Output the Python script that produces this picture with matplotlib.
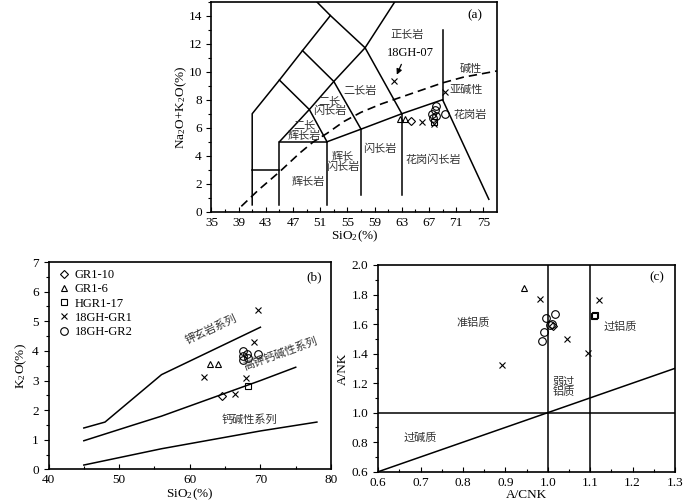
import matplotlib
matplotlib.use("Agg")
import matplotlib.pyplot as plt
import numpy as np
from matplotlib.ticker import MultipleLocator, FixedLocator

plt.rcParams['font.family'] = ['Liberation Serif', 'Noto Sans CJK SC']
plt.rcParams['mathtext.fontset'] = 'stix'
CJK = ['Noto Sans CJK SC', 'DejaVu Sans']
TXT = '#333333'

# ---------------- data ----------------
series_names = ['GR1-10', 'GR1-6', 'HGR1-17', '18GH-GR1', '18GH-GR2']
series_markers = ['D', '^', 's', 'x', 'o']

# panel (a): SiO2 vs Na2O+K2O
a_sio2_gr110 = [64.4]
a_alk_gr110 = [6.5]
a_sio2_gr16 = [62.8, 63.5]
a_alk_gr16 = [6.65, 6.65]
a_sio2_hgr = [67.7]
a_alk_hgr = [6.4]
a_sio2_gh1 = [61.9, 66.0, 67.8, 69.4]
a_alk_gh1 = [9.3, 6.42, 6.25, 8.55]
a_sio2_gh2 = [67.5, 67.9, 68.1, 67.6, 68.0, 69.3]
a_alk_gh2 = [7.0, 7.25, 7.55, 6.7, 6.85, 6.95]

# panel (b): SiO2 vs K2O
b_sio2_gr110 = [64.5]
b_k2o_gr110 = [2.49]
b_sio2_gr16 = [62.85, 64.0]
b_k2o_gr16 = [3.55, 3.55]
b_sio2_hgr = [68.2]
b_k2o_hgr = [2.83]
b_sio2_gh1 = [62.0, 66.4, 67.95, 69.1, 69.7]
b_k2o_gh1 = [3.12, 2.54, 3.07, 4.3, 5.39]
b_sio2_gh2 = [67.5, 68.1, 67.5, 68.2, 67.6, 69.6]
b_k2o_gh2 = [4.0, 3.91, 3.83, 3.75, 3.71, 3.91]

# panel (c): A/CNK vs A/NK
c_acnk_gr110 = [1.012]
c_anl_gr110 = [1.59]
c_acnk_gr16 = [0.944]
c_anl_gr16 = [1.843]
c_acnk_hgr = [1.108, 1.112]
c_anl_hgr = [1.656, 1.662]
c_acnk_gh1 = [0.893, 0.981, 1.045, 1.094, 1.12]
c_anl_gh1 = [1.32, 1.769, 1.50, 1.407, 1.764]
c_acnk_gh2 = [0.996, 1.016, 1.006, 0.992, 0.986, 1.010]
c_anl_gh2 = [1.64, 1.667, 1.595, 1.545, 1.486, 1.60]

# TAS (plutonic) boundaries, panel (a)
tas_lines = [
    [(41, 0.5), (41, 7), (45, 9.4), (48.4, 11.5), (52.5, 14), (48.4, 16)],
    [(41, 3), (45, 3)],
    [(45, 0.5), (45, 5), (52, 5), (52, 0.5)],
    [(45, 5), (49.4, 7.3), (52, 5)],
    [(45, 9.4), (49.4, 7.3), (53, 9.3), (57.6, 11.7), (62, 15)],
    [(48.4, 11.5), (53, 9.3), (57, 5.9)],
    [(52.5, 14), (57.6, 11.7), (63, 7)],
    [(52, 5), (57, 5.9), (63, 7), (69, 8), (75.8, 0.9)],
    [(57, 5.9), (57, 1.2)],
    [(63, 7), (63, 1.2)],
    [(69, 8), (69, 13)],
]
alk_div_x = [39.4, 42, 45, 48, 50, 52, 54.5, 57, 60, 63, 66, 69, 72, 77]
alk_div_y = [0.4, 1.6, 2.85, 4.2, 5.0, 5.6, 6.45, 7.1, 7.7, 8.2, 8.7, 9.2, 9.6, 10.05]
a_xticks = [35, 39, 43, 47, 51, 55, 59, 63, 67, 71, 75]

a_labels = [
    ('正长岩', 63.8, 12.6), ('碱性', 73.1, 10.2), ('亚碱性', 72.4, 8.67),
    ('花岗岩', 73.1, 6.9), ('二长岩', 56.8, 8.6), ('二长\n闪长岩', 52.4, 7.55),
    ('二长\n辉长岩', 48.7, 5.8), ('辉长岩', 49.2, 2.15), ('辉长\n闪长岩', 54.3, 3.55),
    ('闪长岩', 59.7, 4.5), ('花岗闪长岩', 67.7, 3.74),
]

# K2O-SiO2 series boundaries, panel (b)
sho_x = [45, 48, 56, 63, 70]
sho_y = [1.4, 1.6, 3.2, 4.0, 4.8]
hk_x = [45, 52, 56, 63, 70, 75]
hk_y = [0.97, 1.5, 1.8, 2.4, 3.0, 3.45]
ca_x = [45, 48, 56, 63, 70, 78]
ca_y = [0.15, 0.3, 0.7, 1.0, 1.3, 1.6]

# ---------------- figure ----------------
fig = plt.figure(figsize=(7.0, 5.01), dpi=100)
ax_a = fig.add_axes([0.302, 0.577, 0.408, 0.420])
ax_b = fig.add_axes([0.0693, 0.0629, 0.4036, 0.4141])
ax_c = fig.add_axes([0.5404, 0.0585, 0.4239, 0.4126])

mkw = dict(linestyle='none', markerfacecolor='none', markeredgecolor='black',
           color='black', markeredgewidth=0.8)
msizes = {'D': 4.2, '^': 5, 's': 4.5, 'x': 5, 'o': 5.5}


def plot_points(ax, groups):
    handles = []
    for (xs, ys), name, m in zip(groups, series_names, series_markers):
        h, = ax.plot(xs, ys, marker=m, markersize=msizes[m], label=name, **mkw)
        handles.append(h)
    return handles


def style_axis(ax):
    for s in ax.spines.values():
        s.set_linewidth(1.2)
    ax.tick_params(axis='x', which='both', direction='in', labelsize=9.5, width=0.8)
    ax.tick_params(axis='y', which='both', direction='out', labelsize=9.5, width=0.8)
    ax.tick_params(which='major', length=3.5)
    ax.tick_params(which='minor', length=2)


# ----- panel (a) -----
ax = ax_a
for line in tas_lines:
    xs = [p[0] for p in line]
    ys = [p[1] for p in line]
    ax.plot(xs, ys, color='black', lw=1.1)
ax.plot(alk_div_x, alk_div_y, color='black', lw=1.2, ls=(0, (5, 3)))
plot_points(ax, [(a_sio2_gr110, a_alk_gr110), (a_sio2_gr16, a_alk_gr16),
                 (a_sio2_hgr, a_alk_hgr), (a_sio2_gh1, a_alk_gh1),
                 (a_sio2_gh2, a_alk_gh2)])
for t, x, y in a_labels:
    ax.text(x, y, t, family=CJK, fontsize=8, color=TXT, ha='center', va='center',
            linespacing=1.0)
ax.text(64.3, 11.3, '18GH-07', fontsize=9, ha='center', va='center')
ax.annotate('', xy=(62.1, 9.6), xytext=(63.1, 10.7),
            arrowprops=dict(arrowstyle='-|>', color='black', lw=0.9,
                            mutation_scale=8))
ax.text(73.8, 14.0, '(a)', fontsize=9.5, ha='center', va='center')
ax.set_xlim(35, 77)
ax.set_ylim(0, 15)
ax.xaxis.set_major_locator(FixedLocator(a_xticks))
ax.xaxis.set_minor_locator(FixedLocator(list(range(37, 77, 4))))
ax.yaxis.set_major_locator(MultipleLocator(2))
ax.yaxis.set_minor_locator(MultipleLocator(1))
ax.set_xlabel(r'SiO$_\mathregular{2}$(%)', fontsize=9.5, labelpad=0)
ax.set_ylabel(r'Na$_\mathregular{2}$O+K$_\mathregular{2}$O(%)', fontsize=9.5)
ax.yaxis.set_label_coords(-0.08, 0.5)
style_axis(ax)

# ----- panel (b) -----
ax = ax_b
ax.plot(sho_x, sho_y, color='black', lw=1.1)
ax.plot(hk_x, hk_y, color='black', lw=1.1)
ax.plot(ca_x, ca_y, color='black', lw=1.1)
handles = plot_points(ax, [(b_sio2_gr110, b_k2o_gr110), (b_sio2_gr16, b_k2o_gr16),
                           (b_sio2_hgr, b_k2o_hgr), (b_sio2_gh1, b_k2o_gh1),
                           (b_sio2_gh2, b_k2o_gh2)])
ax.text(63.0, 4.72, '钾玄岩系列', family=CJK, fontsize=8, color=TXT, rotation=25,
        ha='center', va='center', rotation_mode='anchor')
ax.text(72.9, 3.9, '高钾钙碱性系列', family=CJK, fontsize=8, color=TXT, rotation=20,
        ha='center', va='center', rotation_mode='anchor')
ax.text(68.4, 1.67, '钙碱性系列', family=CJK, fontsize=8, color=TXT,
        ha='center', va='center')
ax.text(77.6, 6.48, '(b)', fontsize=9.5, ha='center', va='center')
leg = ax.legend(handles=handles, loc='upper left', bbox_to_anchor=(0.0, 1.014),
                frameon=False, fontsize=9, handlelength=0.8, handletextpad=0.5,
                labelspacing=0.18, borderaxespad=0.4)
ax.set_xlim(40, 80)
ax.set_ylim(0, 7)
ax.xaxis.set_major_locator(MultipleLocator(10))
ax.xaxis.set_minor_locator(MultipleLocator(5))
ax.yaxis.set_major_locator(MultipleLocator(1))
ax.yaxis.set_minor_locator(MultipleLocator(0.5))
ax.set_xlabel(r'SiO$_\mathregular{2}$(%)', fontsize=9.5, labelpad=0)
ax.set_ylabel(r'K$_\mathregular{2}$O(%)', fontsize=9.5, labelpad=2)
style_axis(ax)

# ----- panel (c) -----
ax = ax_c
ax.axvline(1.0, color='black', lw=1.1)
ax.axvline(1.1, color='black', lw=1.1)
ax.axhline(1.0, color='black', lw=1.1)
ax.plot([0.6, 1.3], [0.6, 1.3], color='black', lw=1.1)
plot_points(ax, [(c_acnk_gr110, c_anl_gr110), (c_acnk_gr16, c_anl_gr16),
                 (c_acnk_hgr, c_anl_hgr), (c_acnk_gh1, c_anl_gh1),
                 (c_acnk_gh2, c_anl_gh2)])
ax.text(0.824, 1.608, '准铝质', family=CJK, fontsize=8, color=TXT, ha='center', va='center')
ax.text(1.171, 1.581, '过铝质', family=CJK, fontsize=8, color=TXT, ha='center', va='center')
ax.text(1.037, 1.175, '弱过\n铝质', family=CJK, fontsize=8, color=TXT, ha='center',
        va='center', linespacing=1.0)
ax.text(0.698, 0.828, '过碱质', family=CJK, fontsize=8, color=TXT, ha='center', va='center')
ax.text(1.258, 1.92, '(c)', fontsize=9.5, ha='center', va='center')
ax.set_xlim(0.6, 1.3)
ax.set_ylim(0.6, 2.0)
ax.xaxis.set_major_locator(MultipleLocator(0.1))
ax.xaxis.set_minor_locator(MultipleLocator(0.05))
ax.yaxis.set_major_locator(MultipleLocator(0.2))
ax.yaxis.set_minor_locator(MultipleLocator(0.1))
ax.xaxis.set_major_formatter(plt.FuncFormatter(lambda v, p: f'{v:.1f}'))
ax.yaxis.set_major_formatter(plt.FuncFormatter(lambda v, p: f'{v:.1f}'))
ax.set_xlabel('A/CNK', fontsize=9.5, labelpad=0)
ax.set_ylabel('A/NK', fontsize=9.5, labelpad=2)
style_axis(ax)

fig.savefig('out.png', dpi=100)
